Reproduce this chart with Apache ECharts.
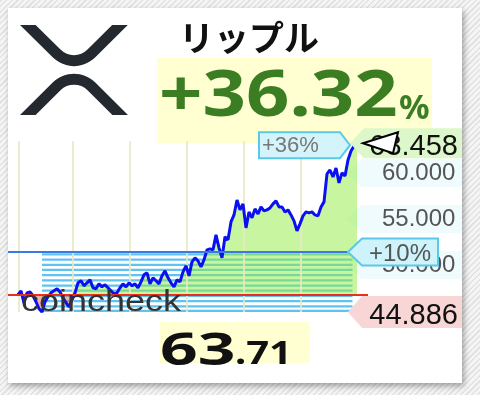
<!DOCTYPE html>
<html><head><meta charset="utf-8">
<script src="https://cdn.jsdelivr.net/npm/echarts@6/dist/echarts.min.js"></script>
<style>
html,body{margin:0;padding:0;}
#c{width:480px;height:395px;background:repeating-linear-gradient(135deg,#e3e3e3 0px,#e3e3e3 1.6px,#f5f5f5 1.6px,#f5f5f5 4px);}
</style></head><body><div id="c"></div>
<script>
// ---- data ----
const coinName = 'リップル';
const changeMain = '+36.32';
const changeUnit = '%';
const currentInt = '63';
const currentDec = '.71';
const brand = 'coincheck';
const prices = [46.76,47.19,45.89,46.97,47.08,46.65,46.00,45.24,44.886,46.00,
  46.54,46.97,47.19,47.41,47.08,46.43,45.89,45.45,46.21,46.97,
  48.06,48.28,47.73,48.06,48.38,47.52,47.41,47.95,47.62,47.84,
  47.52,47.19,46.86,46.97,47.52,47.95,47.62,48.06,47.73,47.95,
  47.52,48.17,48.93,49.15,47.95,48.60,48.28,47.95,48.82,49.36,
  48.60,48.06,47.62,48.38,48.17,49.25,49.91,48.82,50.34,50.77,
  50.45,49.80,50.56,51.64,51.75,51.64,53.27,51.86,50.77,53.06,
  52.73,54.68,55.44,57.07,55.99,56.64,54.03,55.77,55.12,56.10,
  55.55,56.31,55.88,55.99,56.20,56.64,56.97,56.31,56.31,55.77,
  55.99,55.44,54.79,53.71,54.47,55.34,55.77,55.66,55.77,55.44,
  55.34,56.31,56.86,59.90,60.33,59.57,60.55,58.92,60.01,59.68,
  61.42,62.40,62.94,63.458];
const basePrice = 46.74;
const plus10Price = 51.41;
const minPrice = 44.886;
const lastPrice = 63.458;
const yTicks = [50, 55, 60];
const pctLabels = ['+36%', '+10%'];
const vGridX = [0.33, 18.33, 37.33, 56.33, 75.33, 94.33];
const stripeCenters = [51.15,50.59,50.02,49.46,48.89,48.33,47.76,47.20,46.63,46.07,45.50,45.00];
const stripeHalf = 0.12;
const stripeFrom = 8, stripeTo = 111.5;
const xMin = -3.333, xMax = 116.667;
const plus10End = 110;

const pts = prices.map((v, i) => [i, v]);
const chart = echarts.init(document.getElementById('c'), null, {renderer: 'canvas'});
chart.setOption({
  animation: false,
  grid: {left: 8, right: 112, top: 141.2, bottom: 83},
  xAxis: {type: 'value', min: xMin, max: xMax, show: false},
  yAxis: {type: 'value', position: 'right', min: minPrice, max: lastPrice,
    axisLine: {show: false}, axisTick: {show: false}, splitLine: {show: false},
    axisLabel: {customValues: yTicks, formatter: v => v.toFixed(3), color: '#555', fontSize: 24,
      fontFamily: 'Liberation Sans', margin: 14}},
  visualMap: {type: 'piecewise', show: false, seriesIndex: 1, dimension: 1,
    pieces: [{min: 30, max: basePrice, color: 'rgb(228,100,80)'}, {min: basePrice, max: 80, color: 'rgb(145,237,65)'}]},
  series: [
    {type: 'line', data: pts, z: 1, showSymbol: false, lineStyle: {width: 0, opacity: 0}, silent: true,
      markArea: {silent: true, z: 1, itemStyle: {color: '#5ec3f0'},
        data: stripeCenters.map(c => [{coord: [stripeFrom, c + stripeHalf]}, {coord: [stripeTo, c - stripeHalf]}])}},
    {type: 'line', data: pts, z: 2, showSymbol: false, silent: true, lineStyle: {width: 0, opacity: 0},
      areaStyle: {origin: basePrice, opacity: 0.5},
      markLine: {silent: true, z: 3, symbol: 'none', label: {show: false},
        lineStyle: {color: 'rgba(232,232,196,0.85)', width: 2, type: 'solid'},
        data: vGridX.map(x => ({xAxis: x}))}},
    {type: 'line', data: pts, z: 4, showSymbol: false, silent: true,
      lineStyle: {color: '#0a10f2', width: 3},
      markLine: {silent: true, z: 5, symbol: 'none', label: {show: false},
        data: [
          [{coord: [xMin, basePrice], lineStyle: {color: '#e8301e', width: 2, type: 'solid'}}, {coord: [xMax, basePrice]}],
          [{coord: [xMin, plus10Price], lineStyle: {color: '#3a7ae2', width: 2, type: 'solid'}}, {coord: [plus10End, plus10Price]}]
        ]}}
  ]
});

const P = (x, y) => chart.convertToPixel({gridIndex: 0}, [x, y]);
const lastI = prices.length - 1;
const lp = P(lastI, prices[lastI]);
const leftArrow = (tipX, cy, bodyX, right, h) => [[tipX, cy], [bodyX, cy - h / 2], [right, cy - h / 2], [right, cy + h / 2], [bodyX, cy + h / 2]];
const xrpSvg = '<svg xmlns="http://www.w3.org/2000/svg" viewBox="0 0 512 424"><path fill="#23292f" d="' +
  'M437,0h74L357,152.48c-55.77,55.19-146.19,55.19-202,0L0,0H74L192,115.83a91.11,91.11,0,0,0,127.91,0Z' +
  'M74.05,424H0L155,270.58c55.77-55.19,146.19-55.19,202,0L512,424H438L320,307.23a91.11,91.11,0,0,0-127.91,0Z"/></svg>';

const g = [];
g.push({type: 'rect', z: -10, shape: {x: 8, y: 8, width: 454, height: 375},
  style: {fill: '#fff', shadowBlur: 6, shadowColor: 'rgba(0,0,0,0.35)', shadowOffsetX: 2, shadowOffsetY: 3}});
g.push({type: 'rect', z: -5, shape: {x: 157, y: 58, width: 275, height: 85}, style: {fill: '#ffffd2'}});
g.push({type: 'rect', z: -5, shape: {x: 160, y: 322, width: 150, height: 41}, style: {fill: '#ffffd2'}});
yTicks.forEach(v => {
  const cy = P(0, v)[1];
  g.push({type: 'polygon', z: -1, shape: {points: leftArrow(346, cy, 362, 462, 28)}, style: {fill: '#effbfd'}});
});
g.push({type: 'image', z: 10, style: {image: 'data:image/svg+xml;charset=utf-8,' + encodeURIComponent(xrpSvg), x: 20, y: 25, width: 108, height: 90}});
g.push({type: 'text', z: 10, x: 179, y: 38, style: {text: coinName, font: 'bold 35px "Noto Sans CJK JP"', fill: '#111',
  verticalAlign: 'middle', shadowColor: 'rgba(0,0,0,0.25)', shadowBlur: 2, shadowOffsetX: 1, shadowOffsetY: 1}});
g.push({type: 'text', z: 10, x: 159, y: 97, scaleX: 1.17, style: {text: changeMain, font: 'bold 65px "Noto Sans"', fill: '#3b7d23', verticalAlign: 'middle'}});
g.push({type: 'text', z: 10, x: 399, y: 109, style: {text: changeUnit, font: 'bold 34px "Noto Sans"', fill: '#3b7d23', verticalAlign: 'middle'}});
g.push({type: 'text', z: 10, x: 160, y: 352, scaleX: 1.5, style: {text: currentInt, font: 'bold 44px "Noto Sans"', fill: '#111', verticalAlign: 'middle'}});
g.push({type: 'text', z: 10, x: 235, y: 355, scaleX: 1.25, style: {text: currentDec, font: 'bold 32px "Noto Sans"', fill: '#111', verticalAlign: 'middle'}});
g.push({type: 'text', z: 10, x: 21, y: 303, scaleX: 1.2, style: {text: brand, font: '30px "Liberation Sans"', fill: '#333', verticalAlign: 'middle'}});
// last value label
g.push({type: 'polygon', z: 6, shape: {points: leftArrow(lp[0] - 7, lp[1] + 2, lp[0] + 7, 462, 30)}, style: {fill: '#dcf7c9'}});
g.push({type: 'text', z: 7, x: 458, y: lp[1] + 6, style: {text: lastPrice.toFixed(3), font: '29px "Liberation Sans"', fill: '#111', align: 'right', verticalAlign: 'middle'}});
g.push({type: 'polygon', z: 8, shape: {points: [[lp[0] + 6, lp[1] + 2], [lp[0] + 41, lp[1] - 9], [lp[0] + 36, lp[1] + 12]]}, style: {fill: '#fff', stroke: '#000', lineWidth: 2}});
// +36% label
const c36 = lp[1] + 4;
g.push({type: 'polygon', z: 6, shape: {points: [[lp[0] - 98, c36 - 13], [lp[0] - 17, c36 - 13], [lp[0] - 7, c36], [lp[0] - 17, c36 + 13], [lp[0] - 98, c36 + 13]]},
  style: {fill: '#d3f4fb', stroke: '#5cc8e8', lineWidth: 2}});
g.push({type: 'text', z: 7, x: lp[0] - 95, y: c36 + 1, style: {text: pctLabels[0], font: '22px "Liberation Sans"', fill: '#777', verticalAlign: 'middle'}});
// +10% label
const t10 = P(plus10End, plus10Price);
g.push({type: 'polygon', z: 6, shape: {points: leftArrow(t10[0], t10[1], t10[0] + 14, 438, 27)}, style: {fill: '#cff3fb', stroke: '#5cc8e8', lineWidth: 2}});
g.push({type: 'text', z: 7, x: 400, y: t10[1] + 2, style: {text: pctLabels[1], font: '24px "Liberation Sans"', fill: '#555', align: 'center', verticalAlign: 'middle'}});
// min label
const mn = P(plus10End, minPrice);
g.push({type: 'polygon', z: 6, shape: {points: leftArrow(mn[0], mn[1], mn[0] + 14, 462, 32)}, style: {fill: '#f9d6d6'}});
g.push({type: 'text', z: 7, x: 458, y: mn[1] + 4, style: {text: minPrice.toFixed(3), font: '29px "Liberation Sans"', fill: '#111', align: 'right', verticalAlign: 'middle'}});
chart.setOption({graphic: g});
</script></body></html>
